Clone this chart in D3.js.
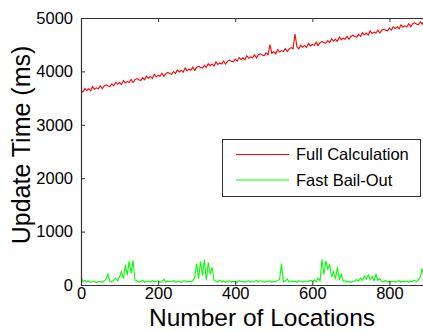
<!DOCTYPE html>
<html>
<head>
<meta charset="utf-8">
<script src="https://cdn.jsdelivr.net/npm/d3@7"></script>
<style>
  body { margin: 0; background: #fff; }
  text { font-family: "Liberation Sans", Arial, sans-serif; }
</style>
</head>
<body>
<svg id="chart" width="423" height="331"></svg>
<script>

// number of locations (sampled every 5)
var locations = d3.range(0, 891, 5);

// update time (ms), full calculation
var fullCalc = [
  3650, 3612, 3679, 3642, 3674, 3636, 3714, 3666, 3693, 3675, 3732, 3675, 3727, 3749, 3726, 3714,
  3766, 3728, 3795, 3758, 3790, 3752, 3830, 3782, 3809, 3791, 3848, 3791, 3843, 3865, 3843, 3830,
  3882, 3844, 3911, 3874, 3906, 3868, 3946, 3898, 3925, 3907, 3964, 3907, 3959, 3981, 3959, 3946,
  3998, 3960, 4027, 3990, 4022, 3984, 4062, 4014, 4041, 4023, 4080, 4023, 4075, 4097, 4075, 4062,
  4114, 4076, 4143, 4106, 4138, 4100, 4178, 4130, 4157, 4139, 4196, 4139, 4191, 4213, 4191, 4178,
  4230, 4192, 4259, 4222, 4254, 4216, 4294, 4246, 4273, 4255, 4312, 4255, 4307, 4329, 4307, 4294,
  4346, 4308, 4500, 4338, 4370, 4327, 4410, 4362, 4389, 4371, 4428, 4371, 4423, 4445, 4423, 4700,
  4462, 4424, 4491, 4454, 4486, 4448, 4526, 4478, 4505, 4487, 4544, 4487, 4539, 4561, 4539, 4526,
  4578, 4540, 4607, 4570, 4602, 4564, 4642, 4594, 4621, 4603, 4660, 4603, 4655, 4677, 4655, 4642,
  4694, 4656, 4723, 4686, 4718, 4680, 4758, 4710, 4737, 4719, 4776, 4719, 4771, 4793, 4771, 4758,
  4810, 4772, 4839, 4802, 4834, 4796, 4874, 4826, 4853, 4835, 4892, 4835, 4887, 4909, 4887, 4874,
  4926, 4888, 4955
];

// update time (ms), fast bail-out
var fastBail = [
  150, 60, 90, 55, 75, 50, 60, 70, 45, 60, 65, 50, 80,
  110, 200, 70, 60, 90, 130, 80, 150,
  250, 120, 380, 180, 450, 220, 460, 90,
  80, 55, 70, 90, 50, 65, 75, 50, 85, 60, 70, 80, 55, 60, 110,
  50, 75, 60, 65, 80, 55, 65, 70, 50, 75, 80, 55, 70, 65, 75,
  150, 400, 120, 440, 180, 475, 90, 420, 200, 330, 90,
  70, 55, 90, 60, 75, 50, 70, 80, 55, 70, 60, 50, 80, 65, 70, 50, 75,
  80, 55, 60, 65, 85, 60, 80, 70, 55, 65, 70, 75, 55, 65, 60, 90,
  100, 400, 60, 80, 110, 60, 75, 60,
  70, 50, 80, 65, 55, 75, 60, 65, 90, 70, 95, 60, 130, 80,
  480, 200, 450, 300, 380, 150, 250, 110, 330, 90, 200, 70,
  80, 55, 70, 50, 65, 80, 100, 70, 130, 90, 170, 110, 190, 100,
  160, 80, 200, 90, 120, 70, 60, 85, 55, 70, 60, 75, 55, 65,
  80, 55, 70, 60, 75, 55, 70, 65, 90, 60, 100, 150, 310, 120
];

var xTicks = [0, 200, 400, 600, 800];
var yTicks = [0, 1000, 2000, 3000, 4000, 5000];
var seriesNames = ["Full Calculation", "Fast Bail-Out"];
var seriesColors = ["#ff0000", "#00ff00"];

(function() {

var svg = d3.select("#chart");

// plot box (right side runs off the picture, like the original)
var boxLeft = 81, boxTop = 18, boxBottom = 285, boxRight = 428;

var x = d3.scaleLinear().domain([0, 900]).range([boxLeft, boxRight]);
var y = d3.scaleLinear().domain([0, 5000]).range([boxBottom, boxTop]);

var series = [fullCalc, fastBail];

var line = d3.line()
  .x(function(d, i) { return x(locations[i]); })
  .y(function(d) { return y(d); });

svg.append("g")
  .selectAll("path")
  .data(series)
  .enter()
  .append("path")
    .attr("d", line)
    .attr("fill", "none")
    .attr("stroke", function(d, i) { return seriesColors[i]; })
    .attr("stroke-width", 1.1);

// axes, ticks point inward
var axisColor = "#333";

var xAxis = svg.append("g")
  .attr("transform", "translate(0," + boxBottom + ")")
  .call(d3.axisBottom(x).tickValues(xTicks).tickSizeInner(-4).tickSizeOuter(0).tickPadding(2));

var xTop = svg.append("g")
  .attr("transform", "translate(0," + boxTop + ")")
  .call(d3.axisTop(x).tickValues(xTicks).tickSizeInner(-4).tickSizeOuter(0).tickFormat(""));

var yAxis = svg.append("g")
  .attr("transform", "translate(" + boxLeft + ",0)")
  .call(d3.axisLeft(y).tickValues(yTicks).tickFormat(d3.format("d"))
    .tickSizeInner(-4).tickSizeOuter(0).tickPadding(8));

[xAxis, xTop, yAxis].forEach(function(g) {
  g.select(".domain").remove();
  g.selectAll("line").attr("stroke", axisColor);
  g.selectAll("text")
    .attr("fill", "#000")
    .style("font-size", "16.5px")
    .style("font-family", "'Liberation Sans', Arial, sans-serif");
});

// frame
svg.append("path")
  .attr("d", "M" + boxRight + "," + (boxTop + 0.5) + "H" + (boxLeft + 0.5) +
             "V" + (boxBottom + 0.5) + "H" + boxRight)
  .attr("fill", "none")
  .attr("stroke", axisColor)
  .attr("stroke-width", 1.2);

// axis titles
svg.append("text")
  .text("Number of Locations")
  .attr("x", 262)
  .attr("y", 326)
  .attr("text-anchor", "middle")
  .style("font-size", "24.5px");

svg.append("text")
  .text("Update Time (ms)")
  .attr("transform", "translate(30,145) rotate(-90)")
  .attr("text-anchor", "middle")
  .style("font-size", "25px");

// legend
var legend = svg.append("g").attr("transform", "translate(222.5,139.5)");

legend.append("rect")
  .attr("width", 198)
  .attr("height", 57)
  .attr("fill", "#fff")
  .attr("stroke", axisColor)
  .attr("stroke-width", 1);

var items = legend.selectAll("g.item")
  .data(seriesNames)
  .enter()
  .append("g")
    .attr("class", "item")
    .attr("transform", function(d, i) { return "translate(0," + (15 + i * 25.5) + ")"; });

items.append("line")
  .attr("x1", 13.5)
  .attr("x2", 66.5)
  .attr("stroke", function(d, i) { return seriesColors[i]; })
  .attr("stroke-width", 1);

items.append("text")
  .text(function(d) { return d; })
  .attr("x", 73.5)
  .attr("dy", "0.35em")
  .style("font-size", "16.5px");

})();

</script>
</body>
</html>
